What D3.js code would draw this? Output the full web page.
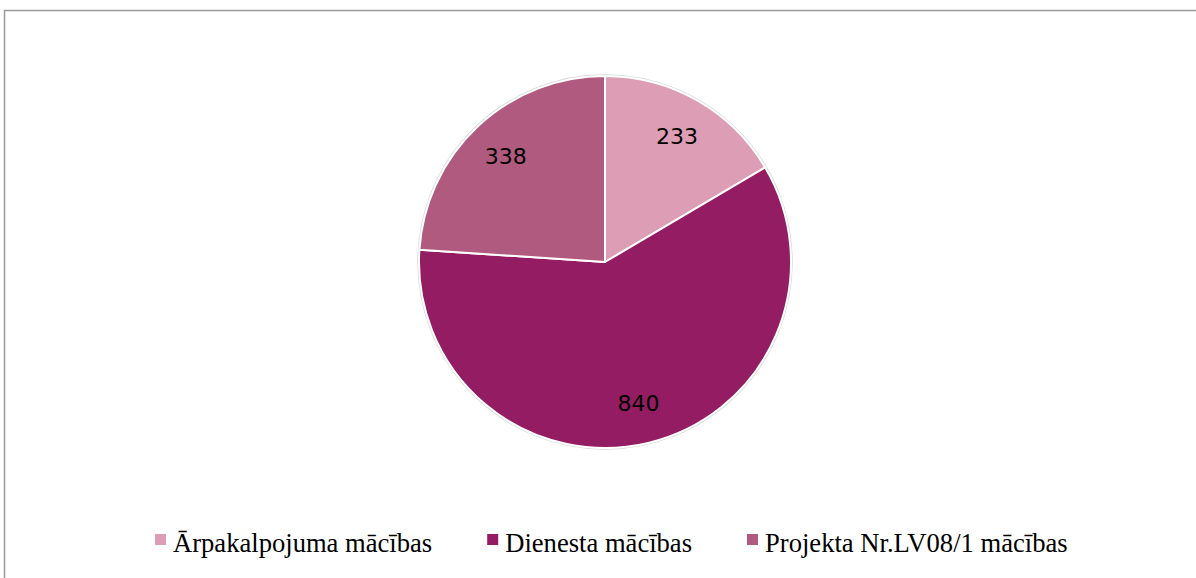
<!DOCTYPE html>
<html>
<head>
<meta charset="utf-8">
<script src="https://cdn.jsdelivr.net/npm/d3@7"></script>
<style>
  body { margin: 0; background: #fff; }
  .legend text { font-family: "Liberation Serif", "DejaVu Serif", serif; }
  .val { font-family: "DejaVu Sans", sans-serif; }
</style>
</head>
<body>
<div id="chart"></div>
<script>
const categories = ["Ārpakalpojuma mācības", "Dienesta mācības", "Projekta Nr.LV08/1 mācības"];
const values = [233, 840, 338];
const colors = ["#dd9db4", "#931c63", "#b05a7f"];

const width = 1196;
const height = 578;
const cx = 605;
const cy = 262;
const radius = 186;

const svg = d3
  .select("#chart")
  .append("svg")
  .attr("width", width)
  .attr("height", height);

// chart area frame (only top and left edges are visible)
svg
  .append("path")
  .attr("d", `M4.5,${height} L4.5,10.5 L${width},10.5`)
  .attr("fill", "none")
  .attr("stroke", "#9a9a9a")
  .attr("stroke-width", 1.5);

const data = categories.map((c, i) => ({ name: c, value: values[i] }));

const color = d3.scaleOrdinal().domain(categories).range(colors);

const pie = d3.pie().sort(null).value((d) => d.value);
const arc = d3.arc().innerRadius(0).outerRadius(radius);
const labelArc = d3.arc().innerRadius(radius * 0.78).outerRadius(radius * 0.78);

const root = svg.append("g").attr("transform", `translate(${cx}, ${cy})`);

// faint outline round the pie
root
  .append("circle")
  .attr("r", radius + 1)
  .attr("fill", "none")
  .attr("stroke", "#d8d8d8")
  .attr("stroke-width", 1.5);

const arcs = pie(data);

root
  .append("g")
  .selectAll("path")
  .data(arcs)
  .enter()
  .append("path")
  .attr("d", arc)
  .attr("fill", (d) => color(d.data.name))
  .attr("stroke", "#fff")
  .attr("stroke-width", 2)
  .attr("stroke-linejoin", "round");

// value labels
root
  .append("g")
  .selectAll("text")
  .data(arcs)
  .enter()
  .append("text")
  .attr("class", "val")
  .attr("transform", (d) => `translate(${labelArc.centroid(d)})`)
  .attr("text-anchor", "middle")
  .attr("dy", "0.36em")
  .attr("font-size", 22)
  .attr("fill", "#000")
  .text((d) => d.data.value);

// legend, items laid out one after another by text width
const legend = svg
  .append("g")
  .attr("class", "legend")
  .attr("transform", "translate(155, 534)");

let x = 0;
categories.forEach((c) => {
  const item = legend.append("g").attr("transform", `translate(${x}, 0)`);
  item
    .append("rect")
    .attr("width", 11)
    .attr("height", 11)
    .attr("fill", color(c));
  const t = item
    .append("text")
    .attr("x", 18)
    .attr("y", 18)
    .attr("font-size", 26.6)
    .attr("fill", "#000")
    .text(c);
  x += 18 + t.node().getComputedTextLength() + 55;
});
</script>
</body>
</html>
